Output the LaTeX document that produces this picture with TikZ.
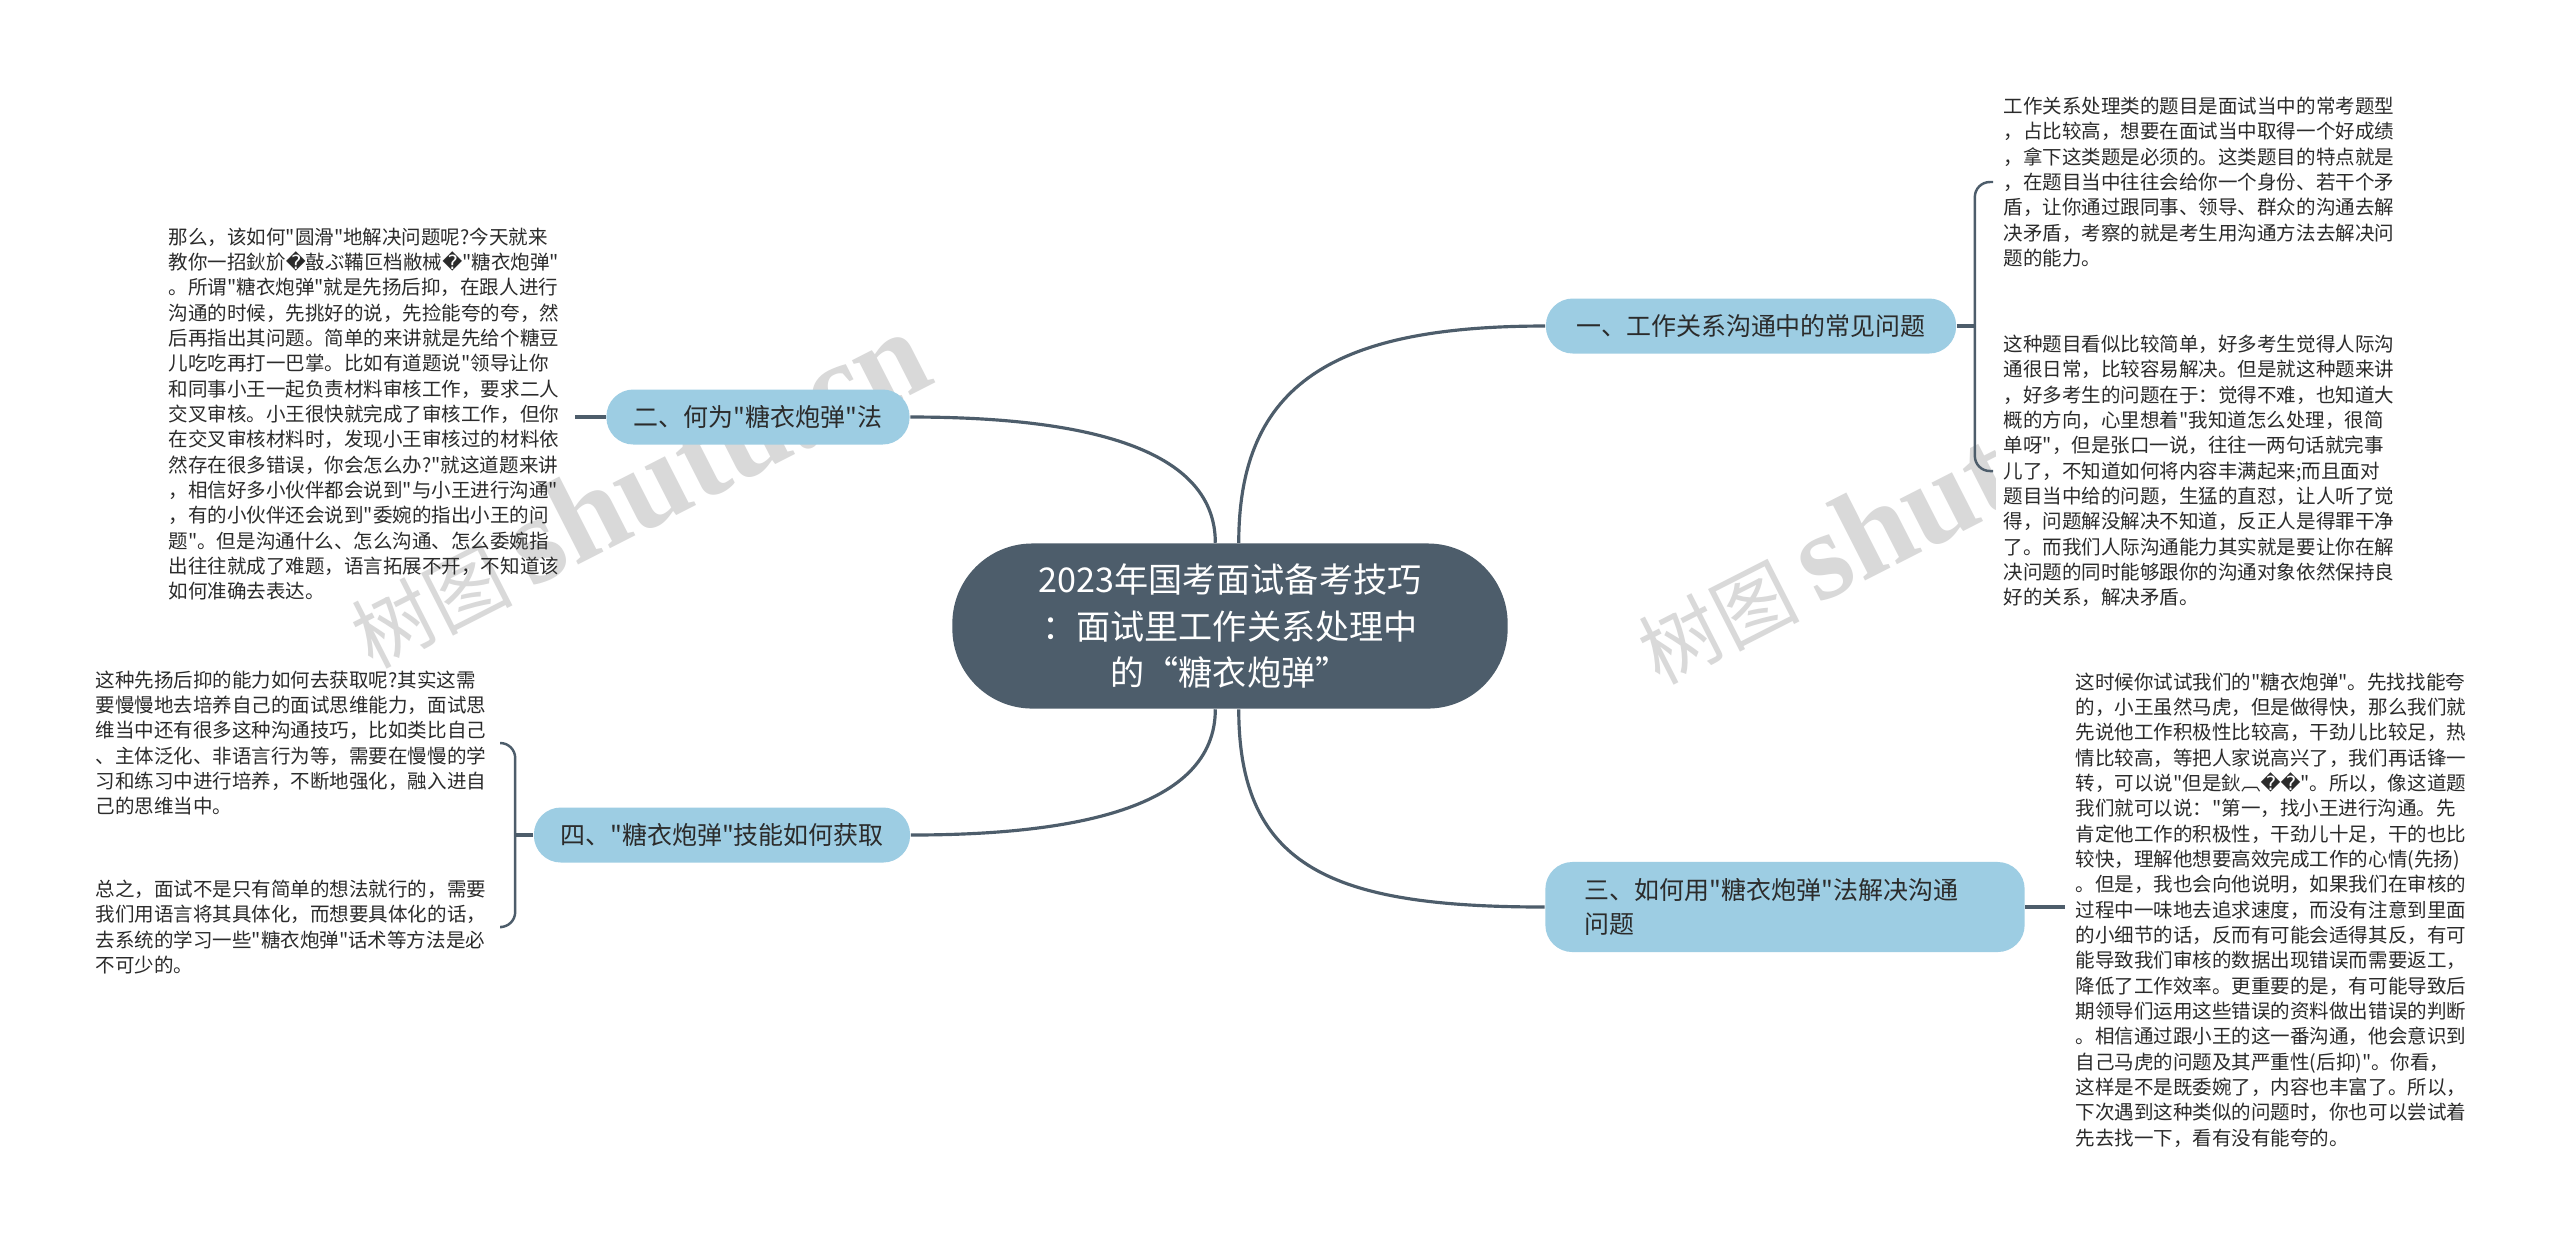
\documentclass[tikz,border=0pt]{standalone}
\usepackage{fontspec}
\setmainfont{Noto Sans CJK SC}[Ligatures=TeXOff]
\newfontfamily\wmfont{Liberation Serif}[Ligatures=TeXOff]
\newfontfamily\symfont{DejaVu Sans}
\definecolor{topicfill}{HTML}{4D5D6B}
\definecolor{branchfill}{HTML}{9DCDE3}
\definecolor{linecolor}{HTML}{4D5D6B}
\definecolor{textdark}{HTML}{2B2B2B}

\begin{document}
\begin{tikzpicture}[x=0.01cm,y=0.01cm]
	\tikzstyle{every node}+=[inner sep=0pt]
	\tikzstyle{topic}=[fill=topicfill, rounded corners=0.8cm, text=white, align=center, minimum width=5.55cm, minimum height=1.65cm, font=\fontsize{9.7}{13.1}\selectfont]
	\tikzstyle{branch}=[fill=branchfill, rounded corners=0.27cm, text=textdark, minimum height=0.55cm, font=\fontsize{7.1}{9.7}\selectfont]
	\tikzstyle{leaf}=[text=textdark, align=left, text width=3.95cm, inner xsep=0.1cm, anchor=west, font=\fontsize{5.55}{7.2}\selectfont]
	\tikzstyle{link}=[draw=linecolor, line width=0.9pt]
	\tikzstyle{bracket}=[draw=linecolor, line width=0.7pt, rounded corners=0.15cm]
	\tikzstyle{wmark}=[text=black!15, rotate=27, font=\fontsize{22.8}{24}\selectfont]
	\fill [white] (0,0) rectangle (2560,-1241);
	\useasboundingbox (0,0) rectangle (2560,-1241);
	\node [wmark] (w1) at (637,-490) {树图 {\wmfont\bfseries\fontsize{35.6}{36}\selectfont shutu.cn}};
	\begin{scope}
		\clip (0,0) rectangle (1995,-1241);
		\node [wmark] (w2) at (1924,-506) {树图 {\wmfont\bfseries\fontsize{35.6}{36}\selectfont shutu.cn}};
	\end{scope}
	\node [topic] (c) at (1230,-626) {2023年国考面试备考技巧\\：面试里工作关系处理中\\的“糖衣炮弹”};
	\node [branch, minimum width=4.1cm] (b1) at (1751,-326) {一、工作关系沟通中的常见问题};
	\node [branch, minimum width=3.03cm] (b2) at (758,-417) {二、何为"糖衣炮弹"法};
	\node [branch, minimum width=4.79cm, minimum height=0.9cm, align=left, text width=4.0cm] (b3) at (1785,-907) {三、如何用"糖衣炮弹"法解决沟通\\问题};
	\node [branch, minimum width=3.76cm] (b4) at (722,-835) {四、"糖衣炮弹"技能如何获取};
	\node [leaf] (t1) at (1993,-182) {工作关系处理类的题目是面试当中的常考题型\\，占比较高，想要在面试当中取得一个好成绩\\，拿下这类题是必须的。这类题目的特点就是\\，在题目当中往往会给你一个身份、若干个矛\\盾，让你通过跟同事、领导、群众的沟通去解\\决矛盾，考察的就是考生用沟通方法去解决问\\题的能力。};
	\node [leaf] (t2) at (1993,-471) {这种题目看似比较简单，好多考生觉得人际沟\\通很日常，比较容易解决。但是就这种题来讲\\，好多考生的问题在于：觉得不难，也知道大\\概的方向，心里想着"我知道怎么处理，很简\\单呀"，但是张口一说，往往一两句话就完事\\儿了，不知道如何将内容丰满起来;而且面对\\题目当中给的问题，生猛的直怼，让人听了觉\\得，问题解没解决不知道，反正人是得罪干净\\了。而我们人际沟通能力其实就是要让你在解\\决问题的同时能够跟你的沟通对象依然保持良\\好的关系，解决矛盾。};
	\node [leaf] (t3) at (2065,-910) {这时候你试试我们的"糖衣炮弹"。先找找能夸\\的，小王虽然马虎，但是做得快，那么我们就\\先说他工作积极性比较高，干劲儿比较足，热\\情比较高，等把人家说高兴了，我们再话锋一\\转，可以说"但是鈥︹{\symfont ��}"。所以，像这道题\\我们就可以说："第一，找小王进行沟通。先\\肯定他工作的积极性，干劲儿十足，干的也比\\较快，理解他想要高效完成工作的心情(先扬)\\。但是，我也会向他说明，如果我们在审核的\\过程中一味地去追求速度，而没有注意到里面\\的小细节的话，反而有可能会适得其反，有可\\能导致我们审核的数据出现错误而需要返工，\\降低了工作效率。更重要的是，有可能导致后\\期领导们运用这些错误的资料做出错误的判断\\。相信通过跟小王的这一番沟通，他会意识到\\自己马虎的问题及其严重性(后抑)"。你看，\\这样是不是既委婉了，内容也丰富了。所以，\\下次遇到这种类似的问题时，你也可以尝试着\\先去找一下，看有没有能夸的。};
	\node [leaf] (t4) at (158,-414) {那么，该如何"圆滑"地解决问题呢?今天就来\\教你一招鈥斺{\symfont �}敼ぶ鞴叵档敝械{\symfont �}"糖衣炮弹"\\。所谓"糖衣炮弹"就是先扬后抑，在跟人进行\\沟通的时候，先挑好的说，先捡能夸的夸，然\\后再指出其问题。简单的来讲就是先给个糖豆\\儿吃吃再打一巴掌。比如有道题说"领导让你\\和同事小王一起负责材料审核工作，要求二人\\交叉审核。小王很快就完成了审核工作，但你\\在交叉审核材料时，发现小王审核过的材料依\\然存在很多错误，你会怎么办?"就这道题来讲\\，相信好多小伙伴都会说到"与小王进行沟通"\\，有的小伙伴还会说到"委婉的指出小王的问\\题"。但是沟通什么、怎么沟通、怎么委婉指\\出往往就成了难题，语言拓展不开，不知道该\\如何准确去表达。};
	\node [leaf] (t5) at (85,-743) {这种先扬后抑的能力如何去获取呢?其实这需\\要慢慢地去培养自己的面试思维能力，面试思\\维当中还有很多这种沟通技巧，比如类比自己\\、主体泛化、非语言行为等，需要在慢慢的学\\习和练习中进行培养，不断地强化，融入进自\\己的思维当中。};
	\node [leaf] (t6) at (85,-927) {总之，面试不是只有简单的想法就行的，需要\\我们用语言将其具体化，而想要具体化的话，\\去系统的学习一些"糖衣炮弹"话术等方法是必\\不可少的。};
	\draw [link] (c.84) .. controls +(0,160) and +(-210,0) .. (b1.west);
	\draw [link] (c.100) .. controls +(0,100) and +(160,0) .. (b2.east);
	\draw [link] (c.-84) .. controls +(0,-160) and +(-210,0) .. (b3.west);
	\draw [link] (c.-100) .. controls +(0,-100) and +(160,0) .. (b4.east);
	\draw [link] (b1.east) -- ++(18,0) coordinate (k1);
	\draw [bracket] (k1) |- (t1.west);
	\draw [bracket] (k1) |- (t2.west);
	\draw [link] (b2.west) -- (b2.west -| t4.east);
	\draw [link] (b3.east) -- (b3.east -| t3.west);
	\draw [link] (b4.west) -- ++(-18,0) coordinate (k4);
	\draw [bracket] (k4) |- (t5.east);
	\draw [bracket] (k4) |- (t6.east);
\end{tikzpicture}
\end{document}
